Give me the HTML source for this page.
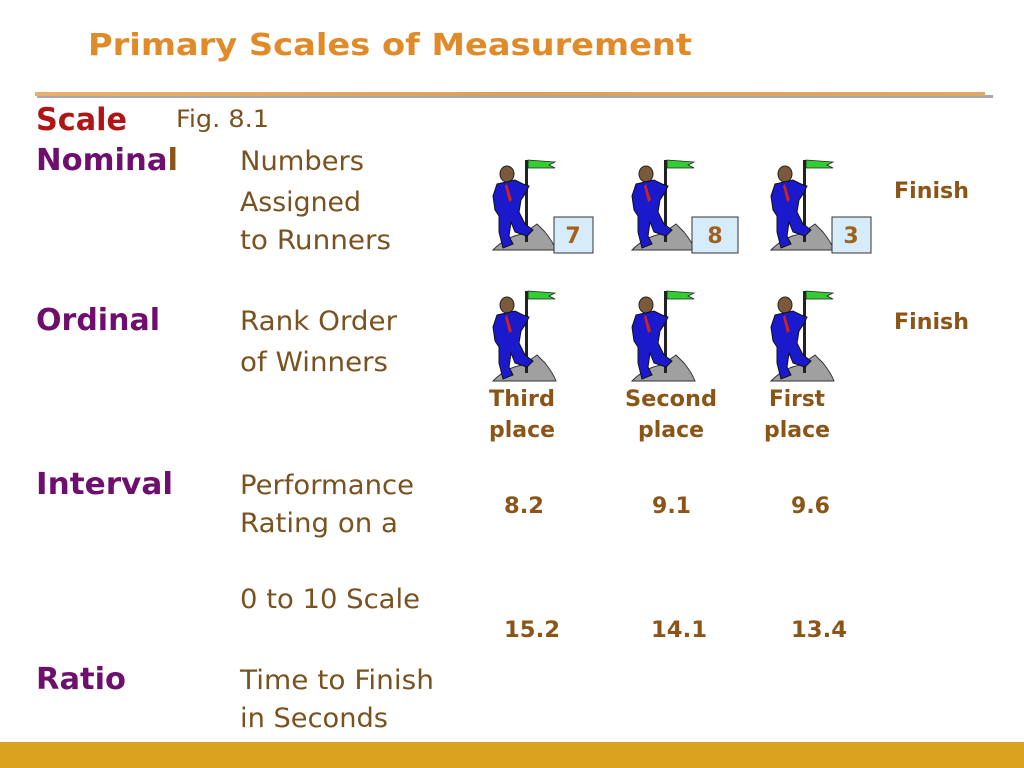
<!DOCTYPE html>
<html><head><meta charset="utf-8"><style>
html,body{margin:0;padding:0;background:#fff;width:1024px;height:768px;overflow:hidden}
svg text{font-family:"DejaVu Sans","Liberation Sans",sans-serif}
</style></head><body>
<svg width="1024" height="768" viewBox="0 0 1024 768" xmlns="http://www.w3.org/2000/svg">
<defs>
<linearGradient id="ln" x1="0" x2="1"><stop offset="0" stop-color="#e8b070"/><stop offset="0.5" stop-color="#d9a060"/><stop offset="1" stop-color="#e0a868"/></linearGradient>
<g id="fig">
 <path d="M0 90 Q14 76 30 74 L44 64 L52 72 Q60 82 63 90 Z" fill="#a0a0a0" stroke="#333" stroke-width="1"/>
 <rect x="32" y="0" width="3" height="82" fill="#222"/>
 <path d="M35 0 L62 2 L56 5 L62 8 L35 8 Z" fill="#33cc33" stroke="#222" stroke-width="0.8"/>
 <ellipse cx="14" cy="14" rx="7" ry="8" fill="#7a5a3a" stroke="#222"/>
 <path d="M4 24 L22 20 L30 24 L36 26 L32 34 L28 40 L26 52 L32 64 L40 70 L34 76 L22 72 L18 62 L16 76 L20 84 L10 88 L6 72 L6 56 L2 50 L0 36 Z" fill="#1a1acc" stroke="#111" stroke-width="1"/>
 <path d="M14 24 L19 40 L16 42 L12 26 Z" fill="#cc2222"/>
</g>
</defs>
<text x="88" y="55" font-size="30" font-weight="bold" fill="#e08a2a" textLength="604" lengthAdjust="spacingAndGlyphs">Primary Scales of Measurement</text>
<rect x="37" y="95" width="956" height="3" fill="#a8a8a8"/>
<rect x="35" y="92" width="950" height="4" fill="url(#ln)"/>
<rect x="0" y="742" width="1024" height="26" fill="#d9a21f"/>

<text x="36" y="130" font-size="31" font-weight="bold" fill="#b01515" textLength="91" lengthAdjust="spacingAndGlyphs">Scale</text>
<text x="176" y="127" font-size="24" fill="#7a5220" textLength="93" lengthAdjust="spacingAndGlyphs">Fig. 8.1</text>

<g font-size="30" font-weight="bold" fill="#6e0f6e">
<text x="36" y="170" textLength="142" lengthAdjust="spacingAndGlyphs">Nomina<tspan fill="#8b5518">l</tspan></text>
<text x="36" y="330" textLength="124" lengthAdjust="spacingAndGlyphs">Ordinal</text>
<text x="36" y="494" textLength="137" lengthAdjust="spacingAndGlyphs">Interval</text>
<text x="36" y="689" textLength="90" lengthAdjust="spacingAndGlyphs">Ratio</text>
</g>
<g font-size="27" fill="#7a5220">
<text x="240" y="170" textLength="124" lengthAdjust="spacingAndGlyphs">Numbers</text>
<text x="240" y="211" textLength="121" lengthAdjust="spacingAndGlyphs">Assigned</text>
<text x="240" y="249" textLength="151" lengthAdjust="spacingAndGlyphs">to Runners</text>
<text x="240" y="330" textLength="157" lengthAdjust="spacingAndGlyphs">Rank Order</text>
<text x="240" y="371" textLength="148" lengthAdjust="spacingAndGlyphs">of Winners</text>
<text x="240" y="494" textLength="174" lengthAdjust="spacingAndGlyphs">Performance</text>
<text x="240" y="532" textLength="158" lengthAdjust="spacingAndGlyphs">Rating on a</text>
<text x="240" y="608" textLength="180" lengthAdjust="spacingAndGlyphs">0 to 10 Scale</text>
<text x="240" y="689" textLength="194" lengthAdjust="spacingAndGlyphs">Time to Finish</text>
<text x="240" y="727" textLength="148" lengthAdjust="spacingAndGlyphs">in Seconds</text>
</g>

<use href="#fig" x="493" y="160"/>
<use href="#fig" x="632" y="160"/>
<use href="#fig" x="771" y="160"/>
<use href="#fig" x="493" y="291"/>
<use href="#fig" x="632" y="291"/>
<use href="#fig" x="771" y="291"/>

<g fill="#d6ecfa" stroke="#333" stroke-width="1">
<rect x="554" y="217" width="39" height="36"/>
<rect x="692" y="217" width="46" height="36"/>
<rect x="832" y="217" width="39" height="36"/>
</g>
<g font-size="22" font-weight="bold" fill="#a0601e" text-anchor="middle">
<text x="573" y="243">7</text>
<text x="715" y="243">8</text>
<text x="851" y="243">3</text>
</g>

<g font-size="22" font-weight="bold" fill="#8b5518">
<text x="894" y="198" textLength="75" lengthAdjust="spacingAndGlyphs">Finish</text>
<text x="894" y="329" textLength="75" lengthAdjust="spacingAndGlyphs">Finish</text>
<text x="489" y="406" textLength="66" lengthAdjust="spacingAndGlyphs">Third</text>
<text x="489" y="437" textLength="66" lengthAdjust="spacingAndGlyphs">place</text>
<text x="625" y="406" textLength="92" lengthAdjust="spacingAndGlyphs">Second</text>
<text x="638" y="437" textLength="66" lengthAdjust="spacingAndGlyphs">place</text>
<text x="769" y="406" textLength="56" lengthAdjust="spacingAndGlyphs">First</text>
<text x="764" y="437" textLength="66" lengthAdjust="spacingAndGlyphs">place</text>
<text x="504" y="513" textLength="40" lengthAdjust="spacingAndGlyphs">8.2</text>
<text x="652" y="513" textLength="39" lengthAdjust="spacingAndGlyphs">9.1</text>
<text x="791" y="513" textLength="39" lengthAdjust="spacingAndGlyphs">9.6</text>
<text x="504" y="637" textLength="56" lengthAdjust="spacingAndGlyphs">15.2</text>
<text x="651" y="637" textLength="56" lengthAdjust="spacingAndGlyphs">14.1</text>
<text x="791" y="637" textLength="56" lengthAdjust="spacingAndGlyphs">13.4</text>
</g>
</svg>
</body></html>
